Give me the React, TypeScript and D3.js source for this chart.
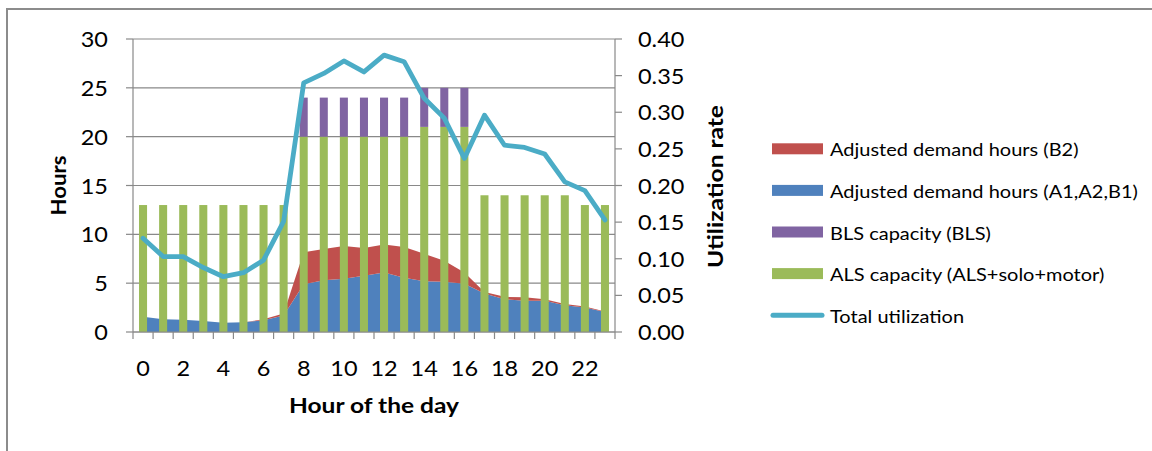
import React from 'react';
import * as d3 from 'd3';

// Hour-by-hour demand, capacity and utilization
const hours = [0, 1, 2, 3, 4, 5, 6, 7, 8, 9, 10, 11, 12, 13, 14, 15, 16, 17, 18, 19, 20, 21, 22, 23];
const demandA1A2B1 = [1.57, 1.3, 1.25, 1.13, 0.95, 0.99, 1.2, 1.7, 4.9, 5.3, 5.45, 5.75, 6.1, 5.55, 5.2, 5.15, 4.95, 3.95, 3.35, 3.2, 3.2, 2.75, 2.5, 2.05];
const demandB2 = [0, 0, 0, 0, 0, 0, 0.1, 0.2, 3.27, 3.2, 3.35, 2.85, 2.85, 3.15, 2.8, 2.15, 1.15, 0.15, 0.25, 0.35, 0.15, 0.12, 0.1, 0.05];
const alsCapacity = [13, 13, 13, 13, 13, 13, 13, 13, 20, 20, 20, 20, 20, 20, 21, 21, 21, 14, 14, 14, 14, 14, 13, 13];
const blsCapacity = [0, 0, 0, 0, 0, 0, 0, 0, 4, 4, 4, 4, 4, 4, 4, 4, 4, 0, 0, 0, 0, 0, 0, 0];
const utilization = [0.128, 0.103, 0.103, 0.088, 0.0755, 0.081, 0.098, 0.151, 0.34, 0.353, 0.37, 0.355, 0.378, 0.369, 0.319, 0.292, 0.237, 0.296, 0.255, 0.252, 0.243, 0.205, 0.193, 0.153];

const hourLabels = [0, 2, 4, 6, 8, 10, 12, 14, 16, 18, 20, 22];
const hoursTicks = [0, 5, 10, 15, 20, 25, 30];
const rateTicks = [0, 0.05, 0.1, 0.15, 0.2, 0.25, 0.3, 0.35, 0.4];

const legendLabels = [
  'Adjusted demand hours (B2)',
  'Adjusted demand hours (A1,A2,B1)',
  'BLS capacity (BLS)',
  'ALS capacity (ALS+solo+motor)',
  'Total utilization',
];

const COLORS = {
  red: '#C0504D',
  blue: '#4F81BD',
  purple: '#8064A2',
  green: '#9BBB59',
  line: '#4BACC6',
  grid: '#898989',
};

const FONT = 'Lato, Carlito, Calibri, "Open Sans", sans-serif';
// Calibri-like proportions: glyphs a little shorter than Lato's for the same advance width
const SY = 0.9;

const W = 1152;
const H = 451;
const plot = { left: 133, right: 615, top: 39, bottom: 332 };

type LabelProps = {
  x: number;
  y: number;
  size: number;
  anchor?: 'start' | 'middle' | 'end';
  bold?: boolean;
  rotate?: number;
  length?: number;
  children: React.ReactNode;
};

function Label({ x, y, size, anchor = 'start', bold = false, rotate = 0, length, children }: LabelProps) {
  return (
    <text
      transform={`translate(${x},${y}) rotate(${rotate}) scale(1,${SY})`}
      textAnchor={anchor}
      fontSize={size}
      fontWeight={bold ? 'bold' : 'normal'}
      fill="#000"
      {...(length ? { textLength: length, lengthAdjust: 'spacingAndGlyphs' } : {})}
    >
      {children}
    </text>
  );
}

export default function App() {
  const x = d3.scaleBand<number>().domain(hours).range([plot.left, plot.right]).paddingInner(0).paddingOuter(0);
  const bw = x.bandwidth();
  const cx = (h: number) => (x(h) as number) + bw / 2;
  const y = d3.scaleLinear().domain([0, 30]).range([plot.bottom, plot.top]);
  const y2 = d3.scaleLinear().domain([0, 0.4]).range([plot.bottom, plot.top]);

  const rows = hours.map((h, i) => ({ hour: h, a: demandA1A2B1[i], b: demandB2[i], als: alsCapacity[i], bls: blsCapacity[i] }));

  const areaStack = d3.stack<any>().keys(['a', 'b'])(rows);
  const barStack = d3.stack<any>().keys(['als', 'bls'])(rows);

  const area = d3
    .area<any>()
    .x((d) => cx(d.data.hour))
    .y0((d) => y(d[0]))
    .y1((d) => y(d[1]));

  const line = d3
    .line<number>()
    .x((_, i) => cx(hours[i]))
    .y((d) => y2(d));

  const barW = bw * 0.4;
  const areaColors = [COLORS.blue, COLORS.red];
  const barColors = [COLORS.green, COLORS.purple];

  const legendX = 772;
  const legendY0 = 148.8;
  const legendStep = 41.6;
  const legendColors = [COLORS.red, COLORS.blue, COLORS.purple, COLORS.green];

  const tickSize = 23.5;
  const midY = (plot.top + plot.bottom) / 2;

  return (
    <svg width={W} height={H} style={{ position: 'absolute', left: 0, top: 0, background: '#fff' }} fontFamily={FONT}>
      <rect x={0} y={0} width={W} height={H} fill="#fff" />
      {/* chart frame */}
      <path d={`M7,${H} V9 H${W}`} fill="none" stroke="#8c8c8c" strokeWidth={2} />

      {/* horizontal gridlines */}
      {hoursTicks.map((t) => (
        <line key={`g${t}`} x1={plot.left} x2={plot.right} y1={y(t)} y2={y(t)} stroke={COLORS.grid} strokeWidth={1.2} />
      ))}

      {/* stacked demand areas */}
      {areaStack.map((s, i) => (
        <path key={`a${i}`} d={area(s) as string} fill={areaColors[i]} />
      ))}

      {/* stacked capacity bars */}
      {barStack.map((s, i) => (
        <g key={`b${i}`} fill={barColors[i]}>
          {s.map((d: any) =>
            d[1] - d[0] > 0 ? (
              <rect key={d.data.hour} x={cx(d.data.hour) - barW / 2} width={barW} y={y(d[1])} height={y(d[0]) - y(d[1])} />
            ) : null
          )}
        </g>
      ))}

      {/* utilization line on secondary axis */}
      <path d={line(utilization) as string} fill="none" stroke={COLORS.line} strokeWidth={4.8} strokeLinejoin="round" strokeLinecap="round" />

      {/* left axis */}
      <line x1={plot.left} x2={plot.left} y1={plot.top} y2={plot.bottom} stroke={COLORS.grid} strokeWidth={1.2} />
      {hoursTicks.map((t) => (
        <g key={`l${t}`}>
          <line x1={plot.left - 7} x2={plot.left} y1={y(t)} y2={y(t)} stroke={COLORS.grid} strokeWidth={1.2} />
          <Label x={108} y={y(t) + 8} size={tickSize} anchor="end">
            {t}
          </Label>
        </g>
      ))}

      {/* right axis */}
      <line x1={plot.right} x2={plot.right} y1={plot.top} y2={plot.bottom} stroke={COLORS.grid} strokeWidth={1.2} />
      {rateTicks.map((t) => (
        <g key={`r${t}`}>
          <line x1={plot.right} x2={plot.right + 7} y1={y2(t)} y2={y2(t)} stroke={COLORS.grid} strokeWidth={1.2} />
          <Label x={638} y={y2(t) + 8} size={tickSize}>
            {t.toFixed(2)}
          </Label>
        </g>
      ))}

      {/* bottom axis */}
      <line x1={plot.left} x2={plot.right} y1={plot.bottom} y2={plot.bottom} stroke={COLORS.grid} strokeWidth={1.2} />
      {hours.map((h) => (
        <line key={`t${h}`} x1={x(h) as number} x2={x(h) as number} y1={plot.bottom} y2={plot.bottom + 7} stroke={COLORS.grid} strokeWidth={1.2} />
      ))}
      <line x1={plot.right} x2={plot.right} y1={plot.bottom} y2={plot.bottom + 7} stroke={COLORS.grid} strokeWidth={1.2} />
      {hourLabels.map((h) => (
        <Label key={`x${h}`} x={cx(h)} y={375.5} size={tickSize} anchor="middle">
          {h}
        </Label>
      ))}

      {/* axis titles */}
      <Label x={(plot.left + plot.right) / 2} y={413} size={23} anchor="middle" bold length={170}>
        Hour of the day
      </Label>
      <Label x={66} y={midY} size={23} anchor="middle" bold rotate={-90} length={60}>
        Hours
      </Label>
      <Label x={723} y={midY + 1} size={23} anchor="middle" bold rotate={-90} length={163}>
        Utilization rate
      </Label>

      {/* legend */}
      {legendLabels.map((label, i) => {
        const ly = legendY0 + i * legendStep;
        return (
          <g key={label}>
            {i < 4 ? (
              <rect x={legendX} y={ly - 5.5} width={51} height={11} fill={legendColors[i]} />
            ) : (
              <line x1={legendX + 1} x2={legendX + 50} y1={ly} y2={ly} stroke={COLORS.line} strokeWidth={5} strokeLinecap="round" />
            )}
            <Label x={830} y={ly + 7.5} size={20}>
              {label}
            </Label>
          </g>
        );
      })}
    </svg>
  );
}
